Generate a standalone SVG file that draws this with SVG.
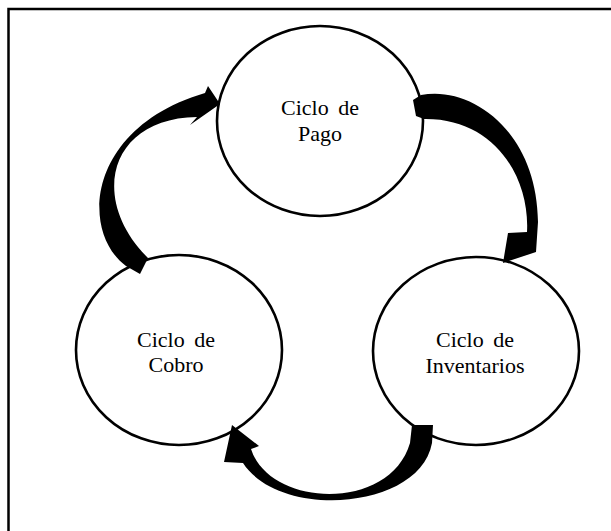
<svg xmlns="http://www.w3.org/2000/svg" width="611" height="531" viewBox="0 0 611 531">
  <style>
    .node { fill: #ffffff; stroke: #000000; stroke-width: 2.6; }
    .arrow { fill: #000000; stroke: none; }
    .label { font-family: "Liberation Serif", "Times New Roman", serif; font-size: 22px; fill: #000000; text-anchor: middle; word-spacing: 4px; }
  </style>
  <rect width="611" height="531" fill="#ffffff"/>
  <!-- outer frame (runs past the right and bottom edges) -->
  <rect x="8.5" y="9" width="640" height="560" fill="none" stroke="#000000" stroke-width="2.5"/>

  <g id="pago">
    <ellipse class="node" cx="320" cy="121" rx="103" ry="95"/>
    <text class="label" x="320" y="115">Ciclo de</text>
    <text class="label" x="320" y="141">Pago</text>
  </g>
  <g id="cobro">
    <ellipse class="node" cx="179" cy="350" rx="103" ry="95"/>
    <text class="label" x="176" y="347">Ciclo de</text>
    <text class="label" x="176" y="372">Cobro</text>
  </g>
  <g id="inventarios">
    <ellipse class="node" cx="476" cy="351" rx="103" ry="94"/>
    <text class="label" x="475" y="347">Ciclo de</text>
    <text class="label" x="475" y="373">Inventarios</text>
  </g>

  <g id="connectors">
    <!-- Cobro to Pago -->
    <path class="arrow" d="M 126,266 C 80,232 86,128 205,93 L 208,86 L 220,104 L 190,125 L 197,117 C 110,118 88,198 148,258 L 140,274 Z"/>
    <!-- Pago to Inventarios -->
    <path class="arrow" d="M 413,100 L 421,95 C 470,85 537,130 538,222 L 536,252 L 503,263 L 508,233 L 527,232 C 530,178 495,118 424,119 L 416,116 Z"/>
    <!-- Inventarios to Cobro -->
    <path class="arrow" d="M 412,425 L 433,425 L 432,443 C 420,510 280,520 243,463 L 224,462 L 232,425 L 259,446 L 251,449 C 270,508 390,512 410,443 Z"/>
  </g>
</svg>
